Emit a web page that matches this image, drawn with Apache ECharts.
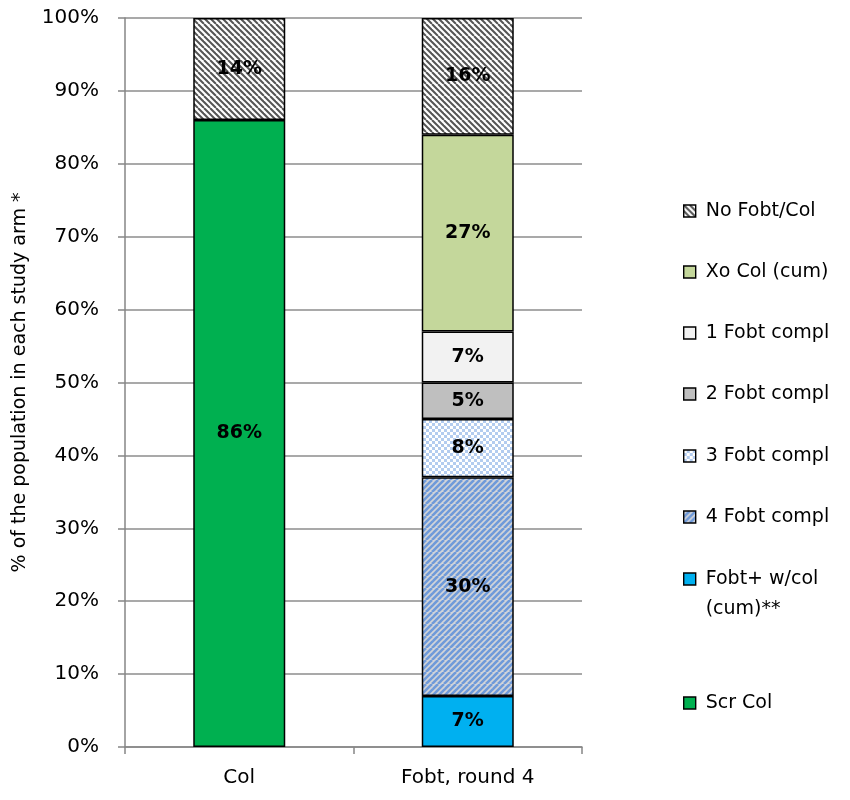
<!DOCTYPE html>
<html>
<head>
<meta charset="utf-8">
<title>Study arm composition</title>
<script src="https://cdn.jsdelivr.net/npm/echarts@6/dist/echarts.min.js"></script>
<style>
  html, body { margin: 0; padding: 0; background: #fff; }
  #chart { width: 850px; height: 800px; }
</style>
</head>
<body>
<div id="chart"></div>
<script>
// Study arms on the x axis
const categories = ['Col', 'Fobt, round 4'];

// Share of each arm's population (%), one array per outcome group
const scrCol      = [86, null];
const fobtPosCol  = [null, 7];
const fobt4       = [null, 30];
const fobt3       = [null, 8];
const fobt2       = [null, 5];
const fobt1       = [null, 7];
const xoCol       = [null, 27];
const noFobtCol   = [14, 16];

// Value axis ticks
const yTicks = [0, 10, 20, 30, 40, 50, 60, 70, 80, 90, 100];

const FONT = 'DejaVu Sans';

// --- Fill patterns drawn on small tiles ---------------------------------
function tile(size, draw) {
  const c = document.createElement('canvas');
  c.width = size; c.height = size;
  draw(c.getContext('2d'), size);
  return c;
}
function diagonal(bg, fg, width, period, down) {
  return tile(period * 2, (ctx, s) => {
    ctx.fillStyle = bg; ctx.fillRect(0, 0, s, s);
    ctx.strokeStyle = fg; ctx.lineWidth = width;
    for (let k = -s; k <= 2 * s; k += period) {
      ctx.beginPath();
      if (down) { ctx.moveTo(k, 0); ctx.lineTo(k + s, s); }
      else { ctx.moveTo(k, s); ctx.lineTo(k + s, 0); }
      ctx.stroke();
    }
  });
}
const hatchDark = diagonal('#ffffff', '#555555', 2, 6, true);
const hatchBlue = diagonal('#d2d4d8', '#6f9ad9', 2.6, 6, false);
const checkBlue = tile(6, (ctx) => {
  ctx.fillStyle = '#b3ccef'; ctx.fillRect(0, 0, 6, 6);
  ctx.fillStyle = '#ffffff';
  ctx.fillRect(0, 0, 3, 3); ctx.fillRect(3, 3, 3, 3);
});
const pattern = (img) => ({ image: img, repeat: 'repeat' });

// --- Series, stacked bottom to top ---------------------------------------
const seriesDefs = [
  { name: 'Scr Col',             data: scrCol,     color: '#00B050' },
  { name: 'Fobt+ w/col (cum)**', data: fobtPosCol, color: '#00B0F0' },
  { name: '4 Fobt compl',        data: fobt4,      color: pattern(hatchBlue) },
  { name: '3 Fobt compl',        data: fobt3,      color: pattern(checkBlue) },
  { name: '2 Fobt compl',        data: fobt2,      color: '#BFBFBF' },
  { name: '1 Fobt compl',        data: fobt1,      color: '#F2F2F2' },
  { name: 'Xo Col (cum)',        data: xoCol,      color: '#C4D79B' },
  { name: 'No Fobt/Col',         data: noFobtCol,  color: pattern(hatchDark) }
];

const series = seriesDefs.map(d => ({
  name: d.name,
  type: 'bar',
  stack: 'arm',
  barWidth: 92,
  data: d.data,
  itemStyle: { color: d.color, borderColor: '#000', borderWidth: 1.5 },
  label: {
    show: true,
    position: 'inside',
    formatter: p => p.value == null ? '' : p.value + '%',
    color: '#000',
    fontFamily: FONT,
    fontWeight: 'bold',
    fontSize: 19
  },
  emphasis: { disabled: true }
}));

// Legend entries listed top to bottom; second value is the icon's centre row
const LINE = 30;
const legendRows = [
  ['No Fobt/Col', 211],
  ['Xo Col (cum)', 272],
  ['1 Fobt compl', 333],
  ['2 Fobt compl', 394],
  ['3 Fobt compl', 456],
  ['4 Fobt compl', 517],
  ['Fobt+ w/col (cum)**', 579],
  ['Scr Col', 703]
];
const legends = legendRows.map(([name, centre]) => {
  const twoLine = name === 'Fobt+ w/col (cum)**';
  // the wrapped entry gets a blank first line so its first text line sits beside the icon
  return {
    orient: 'vertical',
    left: 683,
    top: twoLine ? centre - LINE * 1.5 : centre - LINE / 2,
    padding: 0,
    icon: 'rect',
    itemWidth: 12,
    itemHeight: 12,
    selectedMode: false,
    data: [name],
    formatter: n => twoLine ? '\nFobt+ w/col\n(cum)**' : n,
    itemStyle: { borderColor: '#000', borderWidth: 1.4 },
    textStyle: {
      fontFamily: FONT,
      fontSize: 19,
      color: '#000',
      lineHeight: LINE,
      padding: [0, 0, 0, 5]
    }
  };
});

const chart = echarts.init(document.getElementById('chart'), null, { renderer: 'canvas' });
chart.setOption({
  animation: false,
  backgroundColor: '#ffffff',
  grid: { left: 125, right: 268, top: 18, bottom: 53, containLabel: false },
  legend: legends,
  xAxis: {
    type: 'category',
    data: categories,
    boundaryGap: true,
    axisLine: { lineStyle: { color: '#868686', width: 1.5 } },
    axisTick: { show: true, length: 7, lineStyle: { color: '#868686', width: 1.5 } },
    axisLabel: { color: '#000', fontFamily: FONT, fontSize: 20, margin: 21 }
  },
  yAxis: {
    type: 'value',
    min: yTicks[0],
    max: yTicks[yTicks.length - 1],
    interval: yTicks[1] - yTicks[0],
    name: '% of the population in each study arm *',
    nameLocation: 'middle',
    nameGap: 95,
    nameTextStyle: { color: '#000', fontFamily: FONT, fontSize: 19 },
    axisLine: { show: true, lineStyle: { color: '#868686', width: 1.5 } },
    axisTick: { show: true, length: 7, lineStyle: { color: '#868686', width: 1.5 } },
    axisLabel: { color: '#000', fontFamily: FONT, fontSize: 20, margin: 26, formatter: '{value}%' },
    splitLine: { show: true, lineStyle: { color: '#8c8c8c', width: 1.5 } }
  },
  series: series
});
</script>
</body>
</html>
